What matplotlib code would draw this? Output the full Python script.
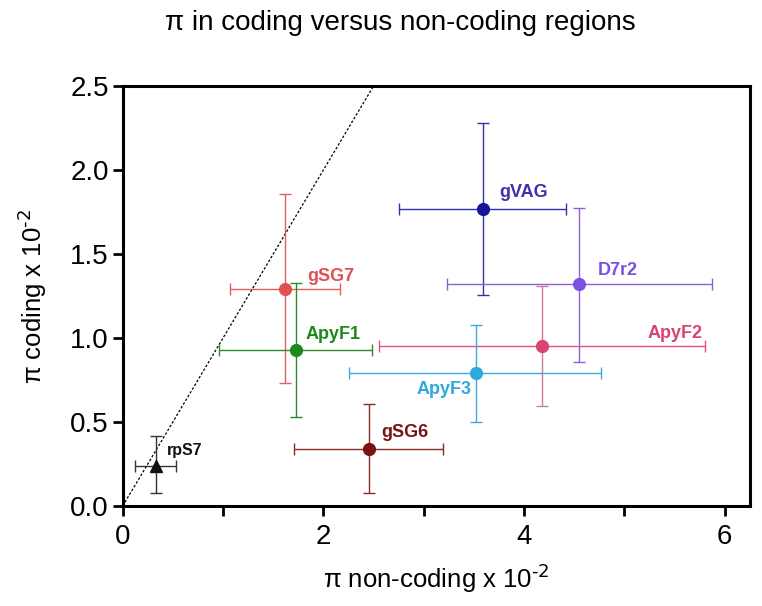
import matplotlib
matplotlib.use("Agg")
import matplotlib.pyplot as plt
import numpy as np

plt.rcParams['font.family'] = ['Liberation Sans', 'DejaVu Sans']

# Data
genes = ["rpS7", "gSG7", "ApyF1", "gSG6", "gVAG", "D7r2", "ApyF2", "ApyF3"]
x_noncoding = [0.33, 1.62, 1.73, 2.45, 3.59, 4.55, 4.18, 3.52]
x_err_low = [0.12, 1.07, 0.96, 1.71, 2.75, 3.23, 2.55, 2.26]
x_err_high = [0.53, 2.17, 2.48, 3.19, 4.42, 5.87, 5.80, 4.77]
y_coding = [0.24, 1.29, 0.93, 0.34, 1.77, 1.32, 0.95, 0.79]
y_err_low = [0.076, 0.73, 0.53, 0.076, 1.256, 0.86, 0.595, 0.50]
y_err_high = [0.417, 1.855, 1.33, 0.607, 2.28, 1.776, 1.31, 1.08]

marker_colors = ["#111111", "#E05252", "#1E8A1E", "#7A1414", "#15159C", "#7F4FE0", "#D9456F", "#2FA8DC"]
hbar_colors = ["#333333", "#E06060", "#2A8A2A", "#8A2A2A", "#3030B0", "#8A60E0", "#E8507A", "#3AAAE0"]
vbar_colors = ["#333333", "#E06060", "#2A8A2A", "#8A2A2A", "#3030B0", "#8A60E0", "#CC7B9A", "#3AAAE0"]
label_colors = ["#111111", "#E05252", "#1E8A1E", "#7A1414", "#4A2AB0", "#7F4FE0", "#D9456F", "#2FA8DC"]
markers = ["^", "o", "o", "o", "o", "o", "o", "o"]
label_offsets = [(8, 8), (16, 6), (6.5, 8), (9.4, 8.6), (12, 8.6), (13, 6.5), (76, 6), (-42.5, -15)]
label_sizes = [11.5, 13, 13, 13, 13, 13, 13, 13]

fig = plt.figure(figsize=(7.62, 6.06), dpi=100)
ax = fig.add_axes([0.161, 0.165, 0.823, 0.693])

# identity line
line_x = [0, 2.5]
ax.plot(line_x, line_x, linestyle=(0, (2, 1.5)), color="black", linewidth=0.9, zorder=1)

for i, g in enumerate(genes):
    x = x_noncoding[i]
    y = y_coding[i]
    ax.errorbar([x], [y], xerr=[[x - x_err_low[i]], [x_err_high[i] - x]],
                fmt='none', ecolor=hbar_colors[i], elinewidth=1.0, capsize=4.5, capthick=1.0, zorder=2)
    ax.errorbar([x], [y], yerr=[[y - y_err_low[i]], [y_err_high[i] - y]],
                fmt='none', ecolor=vbar_colors[i], elinewidth=1.0, capsize=4.5, capthick=1.0, zorder=2)
    ax.plot([x], [y], marker=markers[i], color=marker_colors[i], markersize=8.5 if markers[i] == 'o' else 8,
            linestyle='none', zorder=3)
    ax.annotate(g, (x, y), xytext=label_offsets[i], textcoords='offset points',
                color=label_colors[i], fontsize=label_sizes[i], fontweight='bold',
                ha='left', va='baseline')

ax.set_xlim(0, 6.25)
ax.set_ylim(0, 2.5)
ax.set_xticks(np.arange(0, 7, 1))
ax.set_xticklabels(["0", "", "2", "", "4", "", "6"])
ax.set_yticks(np.arange(0, 2.51, 0.5))
ax.set_yticklabels(["0.0", "0.5", "1.0", "1.5", "2.0", "2.5"])

for sp in ax.spines.values():
    sp.set_linewidth(2.2)
ax.tick_params(axis='both', which='major', direction='out', length=7, width=2,
               labelsize=20, pad=3)
ax.tick_params(axis='x', pad=6)

ax.set_xlabel("π non-coding x 10$^{\\text{-2}}$", fontsize=18.5, labelpad=8)
ax.set_ylabel("π coding x 10$^{\\text{-2}}$", fontsize=18.5, labelpad=15)

fig.text(0.525, 0.962, "π in coding versus non-coding regions", fontsize=20, ha='center', va='center')

fig.savefig("out.png", dpi=100)
